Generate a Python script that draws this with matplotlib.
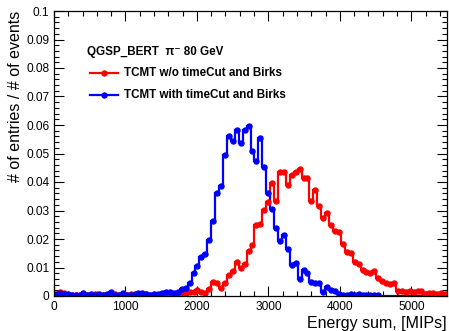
import matplotlib
matplotlib.use("Agg")
import numpy as np
import matplotlib.pyplot as plt

plt.rcParams.update({"font.family": ["Liberation Sans", "DejaVu Sans"], "font.size": 8.6})

# 100 bins, 0 - 5500 MIPs
edges = np.linspace(0, 5500, 101)

red_vals = [
    0.0005, 0.0015, 0.0010, 0.0003, 0.0005, 0.0004, 0.0003, 0.0006, 0.0004, 0.0002,
    0.0008, 0.0004, 0.0005, 0.0003, 0.0004, 0.0006, 0.0003, 0.0005, 0.0002, 0.0006,
    0.0003, 0.0005, 0.0004, 0.0006, 0.0003, 0.0005, 0.0004, 0.0007, 0.0005, 0.0008,
    0.0006, 0.0008, 0.0010, 0.0012, 0.0015, 0.0015, 0.0021, 0.0015, 0.0009, 0.0023,
    0.0050, 0.0045, 0.0027, 0.0045, 0.0074, 0.0088, 0.0118, 0.0097, 0.0111, 0.0158,
    0.0179, 0.0249, 0.0254, 0.0302, 0.0331, 0.0395, 0.0333, 0.0436, 0.0434, 0.0389,
    0.0425, 0.0434, 0.0446, 0.0415, 0.0413, 0.0333, 0.0371, 0.0316, 0.0275, 0.0290,
    0.0249, 0.0228, 0.0226, 0.0184, 0.0155, 0.0150, 0.0118, 0.0111, 0.0091, 0.0085,
    0.0080, 0.0088, 0.0062, 0.0054, 0.0045, 0.0043, 0.0045, 0.0018, 0.0018, 0.0014,
    0.0016, 0.0013, 0.0016, 0.0018, 0.0008, 0.0010, 0.0010, 0.0007, 0.0010, 0.0008,
]

blue_vals = [
    0.0008, 0.0010, 0.0008, 0.0006, 0.0003, 0.0004, 0.0004, 0.0010, 0.0003, 0.0006,
    0.0005, 0.0006, 0.0004, 0.0006, 0.0013, 0.0004, 0.0002, 0.0010, 0.0003, 0.0005,
    0.0006, 0.0010, 0.0010, 0.0008, 0.0002, 0.0006, 0.0008, 0.0012, 0.0013, 0.0015,
    0.0010, 0.0015, 0.0025, 0.0027, 0.0045, 0.0080, 0.0105, 0.0137, 0.0147, 0.0196,
    0.0263, 0.0360, 0.0386, 0.0495, 0.0560, 0.0544, 0.0582, 0.0538, 0.0582, 0.0598,
    0.0509, 0.0474, 0.0553, 0.0452, 0.0360, 0.0305, 0.0238, 0.0194, 0.0214, 0.0165,
    0.0109, 0.0117, 0.0059, 0.0091, 0.0080, 0.0050, 0.0047, 0.0045, 0.0015, 0.0030,
    0.0022, 0.0018, 0.0008, 0.0004, 0.0005, 0.0006, 0.0004, 0.0006, 0.0003, 0.0005,
    0.0002, 0.0004, 0.0005, 0, 0, 0, 0, 0, 0, 0,
    0, 0, 0, 0, 0, 0, 0, 0, 0, 0,
]

header = "QGSP_BERT  \u03c0\u207b 80 GeV"
labels = ["TCMT w/o timeCut and Birks", "TCMT with timeCut and Birks"]
colors = ["#ff0000", "#0000ff"]

centers = 0.5 * (edges[:-1] + edges[1:])

fig = plt.figure(figsize=(4.49, 3.31), dpi=100)
ax = fig.add_axes([54 / 449, 1 - 296 / 331, 393 / 449, 285 / 331])

for vals, c in zip([red_vals, blue_vals], colors):
    v = np.array(vals)
    ax.stairs(v, edges, color=c, lw=1.6, baseline=0)
    m = v > 0
    ax.plot(centers[m], v[m], "o", color=c, ms=3.6, mec=c)

ax.set_xlim(0, 5500)
ax.set_ylim(0, 0.1)
ax.set_xticks(np.arange(0, 5001, 1000))
ax.set_xticks(np.arange(0, 5501, 200), minor=True)
ax.set_yticks(np.arange(0, 0.1001, 0.01))
ax.set_yticks(np.arange(0, 0.1001, 0.002), minor=True)
ax.yaxis.set_major_formatter(matplotlib.ticker.FuncFormatter(lambda v, p: "%g" % round(v, 3)))
ax.tick_params(which="both", direction="in", top=True, right=True, width=0.8)
ax.tick_params(which="major", length=7)
ax.tick_params(which="minor", length=3.5)
for s in ax.spines.values():
    s.set_linewidth(0.9)

ax.set_xlabel("Energy sum, [MIPs]", loc="right", fontsize=11.5, labelpad=2)
ax.set_ylabel("# of entries / # of events", loc="top", fontsize=11.5, labelpad=2)

# legend block (ROOT TLegend style)
def ax_xy(px, py):
    return (px - 54) / 393, (296 - py) / 285

ax.text(*ax_xy(87, 52), header, transform=ax.transAxes, fontsize=8.4,
        fontweight="bold", va="center", ha="left")
for lab, c, py in zip(labels, colors, [73, 95]):
    x0, y0 = ax_xy(90, py)
    x1, _ = ax_xy(118, py)
    xm, _ = ax_xy(104, py)
    ax.plot([x0, x1], [y0, y0], color=c, lw=1.6, transform=ax.transAxes)
    ax.plot([xm], [y0], "o", color=c, ms=3.6, transform=ax.transAxes)
    ax.text(*ax_xy(124, py), lab, transform=ax.transAxes, fontsize=8.4,
            fontweight="bold", va="center", ha="left")

fig.savefig("out.png", dpi=100, facecolor="white")
